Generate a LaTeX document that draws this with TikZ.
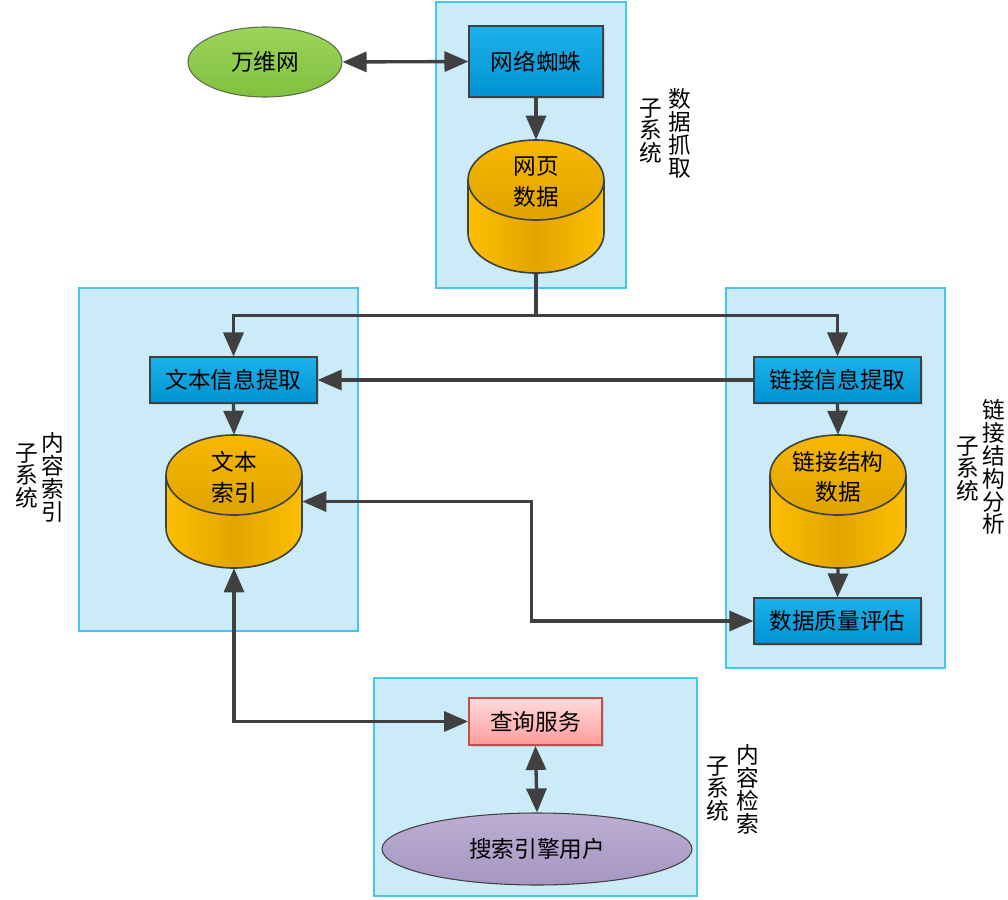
\documentclass[tikz,border=0pt]{standalone}
\usepackage{fontspec}
\setmainfont{Noto Sans CJK SC}
\usetikzlibrary{arrows.meta,shapes.geometric,shadows}

\definecolor{panelfill}{HTML}{CCEBF8}
\definecolor{paneldraw}{HTML}{45C5F2}
\definecolor{linegray}{HTML}{404040}
\definecolor{bluetop}{HTML}{1CB2EC}
\definecolor{bluebot}{HTML}{0092D2}
\definecolor{diskedge}{HTML}{FDBF00}
\definecolor{diskmid}{HTML}{E2A500}
\definecolor{disktop}{HTML}{F7B800}
\definecolor{disklow}{HTML}{DFA300}
\definecolor{greentop}{HTML}{9BD45A}
\definecolor{greenbot}{HTML}{82C03E}
\definecolor{greendraw}{HTML}{5B6E45}
\definecolor{purpletop}{HTML}{BCAED3}
\definecolor{purplebot}{HTML}{A696C3}
\definecolor{pinktop}{HTML}{FFDCDC}
\definecolor{pinkbot}{HTML}{FF9B9B}
\definecolor{pinkdraw}{HTML}{C0504D}

% cylinder: name, x, y of the top ellipse centre, text
\newcommand{\datadisk}[4]{%
  \shade[left color=diskedge, right color=diskedge, middle color=diskmid]
    ({#2-68},{#3}) -- ({#2-68},{#3+53}) arc[start angle=180, end angle=0, x radius=68, y radius=40] -- ({#2+68},{#3}) -- cycle;
  \draw[draw=linegray, line width=1.2pt]
    ({#2-68},{#3}) -- ({#2-68},{#3+53}) arc[start angle=180, end angle=0, x radius=68, y radius=40] -- ({#2+68},{#3});
  \shade[top color=disktop, bottom color=disklow, draw=linegray, line width=1.2pt] (#2,#3) ellipse[x radius=68, y radius=40];
  \node[disktext] at ({#2},{#3+2}) {#4};
  \node[inner sep=0pt, minimum width=102pt, minimum height=99.75pt] (#1) at ({#2},{#3+26.5}) {};
}

\begin{document}
\begin{tikzpicture}[x=0.75pt, y=-0.75pt,
    every node/.style={font=\fontsize{17pt}{20pt}\selectfont},
    panel/.style={fill=panelfill, draw=paneldraw, line width=1pt},
    procbox/.style={rectangle, draw=linegray, line width=0.8pt, top color=bluetop, bottom color=bluebot,
      inner sep=0pt, minimum width=125.25pt, minimum height=34.5pt,
      drop shadow={opacity=.25, shadow xshift=1.5pt, shadow yshift=-1.5pt}},
    querybox/.style={rectangle, draw=pinkdraw, line width=1.4pt, top color=pinktop, bottom color=pinkbot,
      inner sep=0pt, minimum width=99.75pt, minimum height=35.25pt,
      drop shadow={opacity=.25, shadow xshift=1.5pt, shadow yshift=-1.5pt}},
    disktext/.style={align=center, inner sep=0pt, font=\fontsize{17pt}{23pt}\selectfont},
    sublabel/.style={align=center, inner sep=0pt, font=\fontsize{17pt}{17.2pt}\selectfont},
    flow/.style={line width=2.5pt, draw=linegray, -{Triangle[length=18pt,width=15pt]}},
    twoway/.style={line width=2.5pt, draw=linegray, {Triangle[length=18pt,width=15pt]}-{Triangle[length=18pt,width=15pt]}}]

    \useasboundingbox (0,0) rectangle (1008,900);

    % Subsystem panels
    \draw[panel] (436,2) rectangle (626,288);
    \draw[panel] (79,288) rectangle (358,631);
    \draw[panel] (726,288) rectangle (945,668);
    \draw[panel] (374,678) rectangle (697,896);

    % Panel labels
    \node[sublabel] (CrawlA) at (680,133) {数\\据\\抓\\取};
    \node[sublabel] (CrawlB) at (651,131) {子\\系\\统};
    \node[sublabel] (IndexA) at (53,477) {内\\容\\索\\引};
    \node[sublabel] (IndexB) at (27,476) {子\\系\\统};
    \node[sublabel] (LinkA) at (994,467) {链\\接\\结\\构\\分\\析};
    \node[sublabel] (LinkB) at (968,469) {子\\系\\统};
    \node[sublabel] (SearchA) at (748,789) {内\\容\\检\\索};
    \node[sublabel] (SearchB) at (718,789) {子\\系\\统};

    % Nodes (crawling)
    \node[ellipse, draw=greendraw, line width=0.8pt, top color=greentop, bottom color=greenbot,
      inner sep=0pt, minimum width=115.5pt, minimum height=52.5pt] (Web) at (265,62) {万维网};
    \node[procbox, minimum width=100.5pt, minimum height=53.25pt] (Spider) at (536,61.5) {网络蜘蛛};
    \datadisk{Pages}{536}{180}{网页\\数据}

    % Nodes (index and link analysis)
    \node[procbox] (TextExt) at (233.5,380) {文本信息提取};
    \node[procbox] (LinkExt) at (837.5,380) {链接信息提取};
    \datadisk{TextIdx}{234}{475}{文本\\索引}
    \datadisk{LinkData}{838}{475}{链接结构\\数据}
    \node[procbox] (Quality) at (837.5,621) {数据质量评估};

    % Nodes (search)
    \node[querybox] (Query) at (535.5,721.5) {查询服务};
    \node[ellipse, draw=linegray, line width=0.8pt, top color=purpletop, bottom color=purplebot,
      inner sep=0pt, minimum width=232.5pt, minimum height=54pt] (User) at (537,849) {搜索引擎用户};

    % Connectors
    \draw[twoway] (Web.east) -- (Spider.west);
    \draw[flow] (Spider.south) -- (Pages.north);
    \draw[line width=3.2pt, draw=linegray] (Pages.south) -- ++(0,42);
    \draw[flow] (Pages.south) -- ++(0,42) -| (TextExt.north);
    \draw[flow] (Pages.south) -- ++(0,42) -| (LinkExt.north);
    \draw[flow] (LinkExt.west) -- (TextExt.east);
    \draw[flow] (TextExt.south) -- (TextIdx.north);
    \draw[flow] (LinkExt.south) -- (LinkData.north);
    \draw[flow] (LinkData.south) -- (Quality.north);
    \draw[twoway] (TextIdx.east) -- ++(229,0) |- (Quality.west);
    \draw[twoway] (TextIdx.south) |- (Query.west);
    \draw[twoway] (Query.south) -- (User.north);

\end{tikzpicture}
\end{document}
